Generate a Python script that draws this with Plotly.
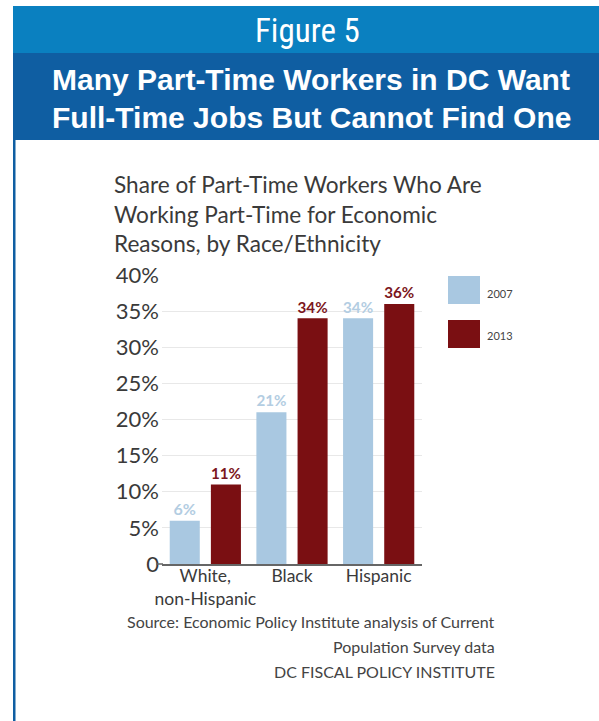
import plotly.graph_objects as go

# Data
categories = ["White,<br>non-Hispanic", "Black", "Hispanic"]
share_2007 = [6, 21, 34]
share_2013 = [11, 34, 36]
series_names = ["2007", "2013"]
tick_values = [0, 5, 10, 15, 20, 25, 30, 35, 40]
tick_labels = ["0", "5%", "10%", "15%", "20%", "25%", "30%", "35%", "40%"]

W, H = 599, 721
ML, MR, MT, MB = 162, W - 422, 275, H - 564

C_2007 = "#A9C8E1"
C_2013 = "#7A0F12"
C_2007_TXT = "#B3CDE2"
C_2013_TXT = "#7B1620"
HEAD_LIGHT = "#0A80C0"
HEAD_DARK = "#0F5EA2"
TXT = "#3a3a3a"

BODY_FONT = "Lato, 'Open Sans', sans-serif"
HEAD_FONT = "'Liberation Sans Narrow', 'Arial Narrow', 'Roboto Condensed', 'Liberation Sans', sans-serif"
HEAD_BOLD_FONT = "'Liberation Sans', Arial, sans-serif"


def px(x):
    """Pixel x -> paper x."""
    return (x - ML) / (W - ML - MR)


def py(y):
    """Pixel y (from top) -> paper y."""
    return (H - MB - y) / (H - MT - MB)


fig = go.Figure()
fig.add_trace(go.Bar(
    x=categories, y=share_2007, name=series_names[0],
    marker=dict(color=C_2007, line=dict(width=0)),
    text=[f"{v}%" for v in share_2007], textposition="outside",
    textfont=dict(color=C_2007_TXT, size=16, family=BODY_FONT, weight="bold"),
    cliponaxis=False, hoverinfo="skip",
))
fig.add_trace(go.Bar(
    x=categories, y=share_2013, name=series_names[1],
    marker=dict(color=C_2013, line=dict(width=0)),
    text=[f"{v}%" for v in share_2013], textposition="outside",
    textfont=dict(color=C_2013_TXT, size=16, family=BODY_FONT, weight="bold"),
    cliponaxis=False, hoverinfo="skip",
))

shapes = [
    # header bands
    dict(type="rect", xref="paper", yref="paper", x0=px(13), x1=px(W + 2), y0=py(6), y1=py(53),
         fillcolor=HEAD_LIGHT, line=dict(width=0), layer="below"),
    dict(type="rect", xref="paper", yref="paper", x0=px(13), x1=px(W + 2), y0=py(53), y1=py(140),
         fillcolor=HEAD_DARK, line=dict(width=0), layer="below"),
    # left border of the panel
    dict(type="rect", xref="paper", yref="paper", x0=px(13), x1=px(15.5), y0=py(140), y1=py(H + 2),
         fillcolor=HEAD_DARK, line=dict(width=0), layer="below"),
    # short extension of the baseline to the left of the plot area
    dict(type="line", xref="paper", yref="paper", x0=px(156), x1=px(163), y0=py(564), y1=py(564),
         line=dict(color="#666", width=1.5)),
    # legend swatches
    dict(type="rect", xref="paper", yref="paper", x0=px(448), x1=px(480), y0=py(276), y1=py(304),
         fillcolor=C_2007, line=dict(width=0)),
    dict(type="rect", xref="paper", yref="paper", x0=px(448), x1=px(480), y0=py(320), y1=py(348),
         fillcolor=C_2013, line=dict(width=0)),
]

annotations = [
    dict(text="Figure 5", x=px(307), y=py(31), xref="paper", yref="paper",
         showarrow=False, xanchor="center", yanchor="middle",
         font=dict(family=HEAD_FONT, size=33, color="white")),
    dict(text="<b>Many Part-Time Workers in DC Want</b>", x=px(311), y=py(79), xref="paper", yref="paper",
         showarrow=False, xanchor="center", yanchor="middle",
         font=dict(family=HEAD_BOLD_FONT, size=30, color="white")),
    dict(text="<b>Full-Time Jobs But Cannot Find One</b>", x=px(311), y=py(117), xref="paper", yref="paper",
         showarrow=False, xanchor="center", yanchor="middle",
         font=dict(family=HEAD_BOLD_FONT, size=30, color="white")),
    dict(text="2007", x=px(485), y=py(293), xref="paper", yref="paper",
         showarrow=False, xanchor="left", yanchor="middle",
         font=dict(family=BODY_FONT, size=11, color="#444")),
    dict(text="2013", x=px(485), y=py(335), xref="paper", yref="paper",
         showarrow=False, xanchor="left", yanchor="middle",
         font=dict(family=BODY_FONT, size=11, color="#444")),
]

title_lines = ["Share of Part-Time Workers Who Are",
               "Working Part-Time for Economic",
               "Reasons, by Race/Ethnicity"]
for i, line in enumerate(title_lines):
    annotations.append(dict(text=line, x=px(112), y=py(184 + 30 * i), xref="paper", yref="paper",
                            showarrow=False, xanchor="left", yanchor="middle",
                            font=dict(family=BODY_FONT, size=22.6, color=TXT)))

source_lines = ["Source: Economic Policy Institute analysis of Current",
                "Population Survey data",
                "DC FISCAL POLICY INSTITUTE"]
for i, line in enumerate(source_lines):
    annotations.append(dict(text=line, x=px(497), y=py(621 + 25 * i), xref="paper", yref="paper",
                            showarrow=False, xanchor="right", yanchor="middle",
                            font=dict(family=BODY_FONT, size=16, color="#444")))

fig.update_layout(
    width=W, height=H,
    margin=dict(l=ML, r=MR, t=MT, b=MB, pad=0),
    paper_bgcolor="white", plot_bgcolor="white",
    barmode="group", bargap=0.05, bargroupgap=0.27,
    showlegend=False,
    shapes=shapes, annotations=annotations,
    font=dict(family=BODY_FONT, color=TXT),
    xaxis=dict(range=[-0.5, 2.5], showgrid=False, showline=True, linecolor="#666", linewidth=1.5,
               ticks="", ticklabelstandoff=-5,
               tickfont=dict(size=17.5, color=TXT, family=BODY_FONT), fixedrange=True),
    yaxis=dict(range=[0, 40], tickvals=tick_values, ticktext=tick_labels, showgrid=True,
               gridcolor="#e8e8e8", gridwidth=1, zeroline=False, showline=False,
               ticks="", ticklabelstandoff=2,
               tickfont=dict(size=22, color=TXT, family=BODY_FONT), fixedrange=True),
)

fig.write_html("out.html", include_plotlyjs=True, config={"displayModeBar": False})
